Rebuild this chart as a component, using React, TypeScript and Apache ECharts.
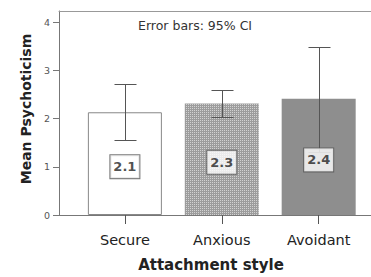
import React, { useEffect, useRef } from "react";
import * as echarts from "echarts";

const categories = ["Secure", "Anxious", "Avoidant"];
const means = [2.13, 2.31, 2.41];
const ciLow = [1.55, 2.04, 1.3];
const ciHigh = [2.72, 2.6, 3.49];
const yTicks = [0, 1, 2, 3, 4];
const subtitle = "Error bars: 95% CI";

export default function App() {
  const ref = useRef<HTMLDivElement>(null);
  useEffect(() => {
    if (!ref.current) return;
    const chart = echarts.init(ref.current, null, { renderer: "svg" });
    const font = "DejaVu Sans";
    const axisColor = "#777";
    const xIdx = categories.map((_, i) => i);
    const barStyles = [
      { color: "#ffffff", borderColor: "#888", borderWidth: 1 },
      {
        color: "#9c9c9c",
        decal: {
          symbol: "rect",
          symbolSize: 1,
          dashArrayX: [1, 1],
          dashArrayY: [1, 1],
          color: "rgba(255,255,255,0.55)",
        },
      },
      { color: "#8e8e8e" },
    ];
    chart.setOption({
      animation: false,
      title: {
        text: subtitle,
        left: 138,
        top: 19,
        padding: 0,
        textStyle: { fontFamily: font, fontSize: 12.5, fontWeight: "normal", color: "#333" },
      },
      grid: { left: 59, right: 0, top: 11, bottom: 58.3, containLabel: false },
      xAxis: [
        {
          type: "value",
          min: -0.68,
          max: 2.54,
          position: "bottom",
          axisLine: { show: true, onZero: false, lineStyle: { color: axisColor } },
          splitLine: { show: false },
          axisTick: { show: true, customValues: xIdx, length: 9, lineStyle: { color: "#555" } },
          axisLabel: {
            customValues: xIdx,
            formatter: (v: number) => categories[Math.round(v)] ?? "",
            margin: 17,
            fontFamily: font,
            fontSize: 14.5,
            color: "#222",
          },
          name: "Attachment style",
          nameLocation: "middle",
          nameGap: 42,
          nameTextStyle: {
            fontFamily: font,
            fontSize: 15,
            fontWeight: "bold",
            color: "#222",
            padding: [0, 8, 0, 0],
          },
        },
        {
          type: "value",
          min: -0.68,
          max: 2.54,
          position: "top",
          axisLine: { show: true, onZero: false, lineStyle: { color: "#999" } },
          axisTick: { show: false },
          axisLabel: { show: false },
          splitLine: { show: false },
        },
      ],
      yAxis: {
        type: "value",
        min: 0,
        max: 4.23,
        interval: 1,
        axisLine: { show: true, onZero: false, lineStyle: { color: axisColor } },
        axisTick: { show: true, length: 6, lineStyle: { color: axisColor }, customValues: yTicks },
        axisLabel: {
          customValues: yTicks,
          margin: 9,
          fontFamily: font,
          fontSize: 9.5,
          color: "#555",
        },
        splitLine: { show: false },
        name: "Mean Psychoticism",
        nameLocation: "middle",
        nameGap: 23,
        nameTextStyle: {
          fontFamily: font,
          fontSize: 14,
          fontWeight: "bold",
          color: "#222",
          padding: [0, 0, 0, 8],
        },
      },
      series: [
        {
          type: "bar",
          xAxisIndex: 0,
          yAxisIndex: 0,
          barWidth: 74,
          z: 2,
          data: means.map((m, i) => ({ value: [i, m], itemStyle: barStyles[i] })),
        },
        {
          type: "custom",
          xAxisIndex: 0,
          yAxisIndex: 0,
          z: 3,
          encode: { x: 0, y: [1, 2] },
          data: categories.map((_, i) => [i, ciLow[i], ciHigh[i]]),
          renderItem: (params: any, api: any) => {
            const x = api.value(0);
            const lo = api.coord([x, api.value(1)]);
            const hi = api.coord([x, api.value(2)]);
            const cx = Math.round(lo[0]) + 0.5;
            const ly = Math.round(lo[1]) + 0.5;
            const hy = Math.round(hi[1]) + 0.5;
            const hw = 11;
            const style = { stroke: "#555", lineWidth: 1 };
            return {
              type: "group",
              children: [
                { type: "line", shape: { x1: cx, y1: hy, x2: cx, y2: ly }, style },
                { type: "line", shape: { x1: cx - hw, y1: hy, x2: cx + hw, y2: hy }, style },
                { type: "line", shape: { x1: cx - hw, y1: ly, x2: cx + hw, y2: ly }, style },
              ],
            };
          },
        },
        {
          type: "scatter",
          xAxisIndex: 0,
          yAxisIndex: 0,
          z: 4,
          symbolSize: 0,
          data: means.map((m, i) => [i, m / 2]),
          label: {
            show: true,
            position: "inside",
            offset: [0, 3],
            formatter: (p: any) => means[p.dataIndex].toFixed(1),
            fontFamily: font,
            fontSize: 13,
            fontWeight: "bold",
            color: "#222",
            backgroundColor: "#fff",
            borderColor: "#555",
            borderWidth: 1,
            padding: [4, 3, 4, 3],
            lineHeight: 15,
          },
        },
      ],
    });
    return () => chart.dispose();
  }, []);
  return (
    <div
      ref={ref}
      style={{ position: "fixed", left: 0, top: 0, width: 371, height: 277, background: "#fff" }}
    />
  );
}
